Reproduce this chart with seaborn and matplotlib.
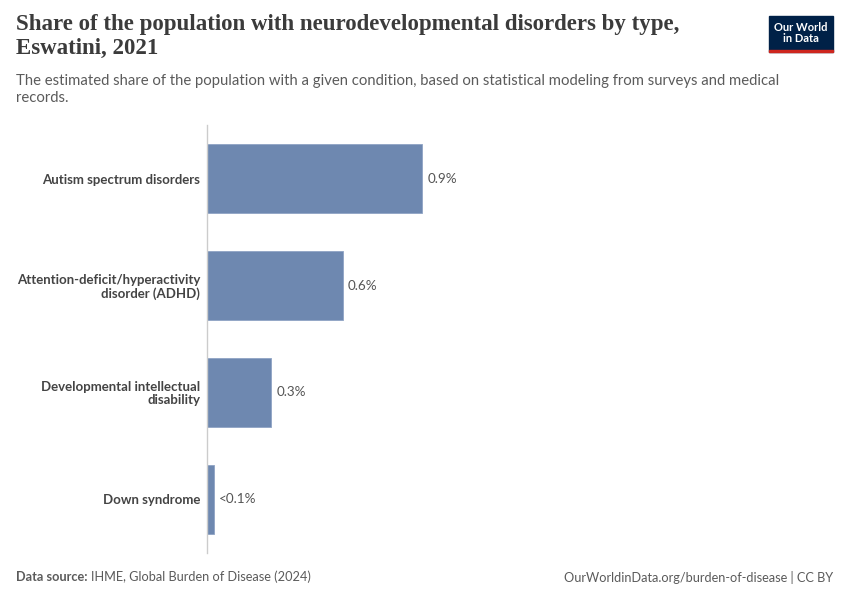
import matplotlib
matplotlib.use("Agg")
import matplotlib.pyplot as plt
import seaborn as sns
import pandas as pd
from matplotlib.patches import Rectangle

disorders = ["Autism spectrum disorders",
             "Attention-deficit/hyperactivity\ndisorder (ADHD)",
             "Developmental intellectual\ndisability",
             "Down syndrome"]
share = [0.92, 0.58, 0.275, 0.028]
value_labels = ["0.9%", "0.6%", "0.3%", "<0.1%"]

df = pd.DataFrame({"Disorder": disorders, "Share": share})

sns.set_style("white")
plt.rcParams["font.family"] = ["Lato", "DejaVu Sans"]

fig = plt.figure(figsize=(8.5, 6), dpi=100)
ax = fig.add_axes([207 / 850, 1 - 552.7 / 600, 620 / 850, 427.4 / 600])

sns.barplot(data=df, x="Share", y="Disorder", orient="h", color="#6e88b0",
            saturation=1, width=0.645, edgecolor="#8fa3c4", linewidth=0.6, ax=ax)

for i, (v, lab) in enumerate(zip(share, value_labels)):
    ax.text(v + 0.022, i, lab, va="center", ha="left", fontsize=9.7, color="#555555")

ax.set_xlim(0, 620 / (215 / 0.92))
ax.set_ylim(3.5, -0.5)
ax.set_xlabel("")
ax.set_ylabel("")
ax.set_xticks([])
for s in ["top", "right", "bottom"]:
    ax.spines[s].set_visible(False)
ax.spines["left"].set_color("#cccccc")
ax.spines["left"].set_linewidth(1)
ax.tick_params(axis="y", length=0, pad=5)
for t in ax.get_yticklabels():
    t.set_fontweight("bold")
    t.set_fontsize(9.5)
    t.set_color("#444444")
    t.set_linespacing(1.1)

fig.text(16 / 850, 1 - 14 / 600,
         "Share of the population with neurodevelopmental disorders by type,\nEswatini, 2021",
         ha="left", va="top", fontsize=16.5, fontweight="semibold",
         family=["Liberation Serif", "DejaVu Serif"],
         color="#3b3b3b", linespacing=1.2)
fig.text(16 / 850, 1 - 74 / 600,
         "The estimated share of the population with a given condition, based on statistical modeling from surveys and medical\nrecords.",
         ha="left", va="top", fontsize=10.7, color="#5b5b5b", linespacing=1.3)

fig.text(16 / 850, 1 - 577 / 600, "Data source:", ha="left", va="center",
         fontsize=9.2, fontweight="bold", color="#5b5b5b")
fig.text(91 / 850, 1 - 577 / 600, "IHME, Global Burden of Disease (2024)", ha="left",
         va="center", fontsize=9.2, color="#5b5b5b")
fig.text(833 / 850, 1 - 577 / 600, "OurWorldinData.org/burden-of-disease | CC BY",
         ha="right", va="center", fontsize=9.2, color="#5b5b5b")

# logo
fig.patches.append(Rectangle((769 / 850, 1 - 52 / 600), 64 / 850, 36 / 600,
                             transform=fig.transFigure, color="#002147", zorder=5))
fig.patches.append(Rectangle((769 / 850, 1 - 52 / 600), 64 / 850, 2.5 / 600,
                             transform=fig.transFigure, color="#ce261e", zorder=6))
fig.text(801 / 850, 1 - 33 / 600, "Our World\nin Data", ha="center", va="center",
         fontsize=8, fontweight="bold", color="white", linespacing=1.0, zorder=7)

fig.savefig("out.png", dpi=100, facecolor="white")
